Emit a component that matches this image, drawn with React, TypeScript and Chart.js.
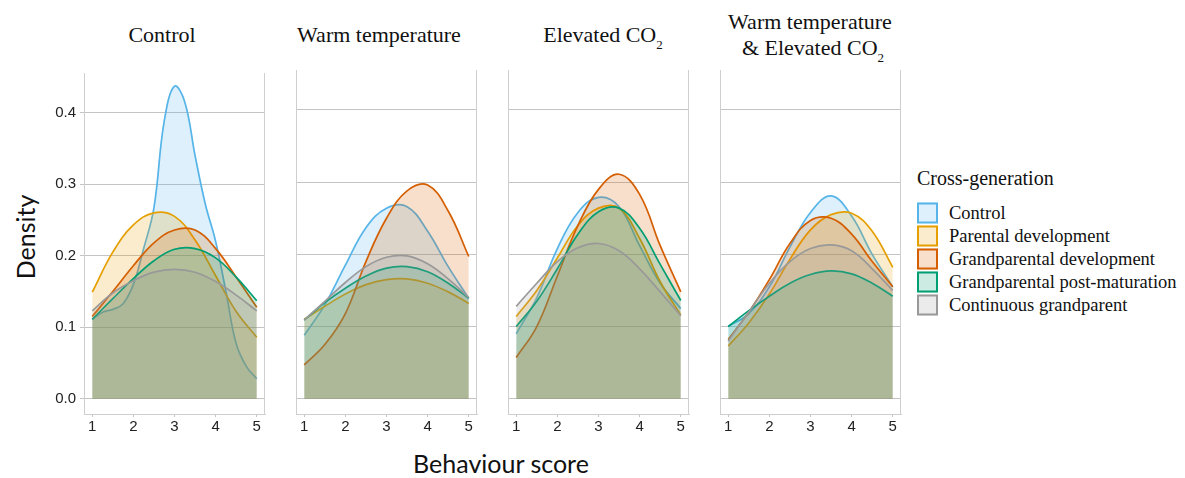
import React, { useEffect, useRef } from "react";
import { Chart, registerables } from "chart.js";

Chart.register(...registerables);

// ---------- data ----------
const behaviourScores = [1, 1.5, 2, 2.5, 3, 3.5, 4, 4.5, 5];
const fineBehaviourScores = [1, 1.25, 1.5, 1.75, 2, 2.25, 2.5, 2.75, 3, 3.25, 3.5, 3.75, 4, 4.25, 4.5, 4.75, 5];
const xTickValues = [1, 2, 3, 4, 5];
const yTickValues = [0, 0.1, 0.2, 0.3, 0.4];

const crossGenerations = [
  "Control",
  "Parental development",
  "Grandparental development",
  "Grandparental post-maturation",
  "Continuous grandparent",
];
const generationColors = ["#56B4E9", "#E69F00", "#D55E00", "#009E73", "#999999"];

// Panel "Control"
const controlControl = [0.111, 0.121, 0.125, 0.133, 0.16, 0.21, 0.267, 0.388, 0.437, 0.415, 0.34, 0.272, 0.22, 0.15, 0.077, 0.045, 0.028];
const controlParental = [0.149, 0.205, 0.243, 0.26, 0.255, 0.222, 0.172, 0.122, 0.086];
const controlGrandDev = [0.115, 0.15, 0.186, 0.218, 0.236, 0.236, 0.21, 0.17, 0.128];
const controlGrandPost = [0.111, 0.14, 0.168, 0.193, 0.209, 0.21, 0.197, 0.17, 0.137];
const controlContinuous = [0.123, 0.148, 0.165, 0.177, 0.181, 0.177, 0.164, 0.145, 0.123];

// Panel "Warm temperature"
const warmControl = [0.088, 0.13, 0.185, 0.237, 0.264, 0.266, 0.232, 0.183, 0.139];
const warmParental = [0.11, 0.128, 0.145, 0.158, 0.165, 0.166, 0.16, 0.148, 0.132];
const warmGrandDev = [0.047, 0.075, 0.118, 0.19, 0.25, 0.288, 0.296, 0.26, 0.197];
const warmGrandPost = [0.109, 0.133, 0.153, 0.17, 0.181, 0.183, 0.176, 0.16, 0.139];
const warmContinuous = [0.109, 0.135, 0.161, 0.183, 0.196, 0.198, 0.187, 0.166, 0.14];

// Panel "Elevated CO2"
const co2Control = [0.09, 0.14, 0.208, 0.258, 0.279, 0.266, 0.212, 0.16, 0.125];
const co2Parental = [0.114, 0.15, 0.195, 0.24, 0.264, 0.264, 0.222, 0.162, 0.116];
const co2GrandDev = [0.057, 0.1, 0.17, 0.24, 0.29, 0.311, 0.283, 0.212, 0.148];
const co2GrandPost = [0.1, 0.135, 0.18, 0.228, 0.259, 0.264, 0.236, 0.186, 0.136];
const co2Continuous = [0.128, 0.16, 0.19, 0.209, 0.215, 0.205, 0.18, 0.148, 0.115];

// Panel "Warm temperature & Elevated CO2"
const bothControl = [0.1, 0.118, 0.155, 0.21, 0.258, 0.281, 0.253, 0.2, 0.155];
const bothParental = [0.073, 0.105, 0.145, 0.193, 0.234, 0.255, 0.257, 0.232, 0.182];
const bothGrandDev = [0.082, 0.12, 0.165, 0.215, 0.247, 0.25, 0.228, 0.19, 0.155];
const bothGrandPost = [0.1, 0.122, 0.142, 0.16, 0.172, 0.177, 0.173, 0.16, 0.142];
const bothContinuous = [0.08, 0.12, 0.16, 0.19, 0.208, 0.213, 0.205, 0.18, 0.15];

type Series = { x: number[]; y: number[] };

const panelSeries: Series[][] = [
  [
    { x: fineBehaviourScores, y: controlControl },
    { x: behaviourScores, y: controlParental },
    { x: behaviourScores, y: controlGrandDev },
    { x: behaviourScores, y: controlGrandPost },
    { x: behaviourScores, y: controlContinuous },
  ],
  [
    { x: behaviourScores, y: warmControl },
    { x: behaviourScores, y: warmParental },
    { x: behaviourScores, y: warmGrandDev },
    { x: behaviourScores, y: warmGrandPost },
    { x: behaviourScores, y: warmContinuous },
  ],
  [
    { x: behaviourScores, y: co2Control },
    { x: behaviourScores, y: co2Parental },
    { x: behaviourScores, y: co2GrandDev },
    { x: behaviourScores, y: co2GrandPost },
    { x: behaviourScores, y: co2Continuous },
  ],
  [
    { x: behaviourScores, y: bothControl },
    { x: behaviourScores, y: bothParental },
    { x: behaviourScores, y: bothGrandDev },
    { x: behaviourScores, y: bothGrandPost },
    { x: behaviourScores, y: bothContinuous },
  ],
];

// ---------- layout / style ----------
const PANEL_LEFTS = [84, 296, 508, 720];
const PANEL_W = 181;
const PANEL_TOP = 70;
const PANEL_H = 344;
const Y_AXIS_W = 40;
const X_AXIS_H = 30;
const PAD_TOP = 10;
const PAD_RIGHT = 12;
const X_MIN = 0.8;
const X_MAX = 5.2;
const Y_MIN = -0.0212;
const Y_MAX = 0.4554;
const GRID_COLOR = "#c4c4c4";
const BORDER_COLOR = "#cfcfcf";
const TICK_COLOR = "#222222";
const SANS = "'Liberation Sans', Arial, sans-serif";
const SERIF = "'Liberation Serif', 'Times New Roman', serif";
const LABEL_FONT = "Lato, 'Open Sans', sans-serif";

function rgba(hex: string, a: number) {
  const n = parseInt(hex.slice(1), 16);
  return `rgba(${(n >> 16) & 255},${(n >> 8) & 255},${n & 255},${a})`;
}

const rightBorderPlugin = {
  id: "rightBorder",
  afterDraw(chart: any) {
    const { ctx, chartArea: a } = chart;
    ctx.save();
    ctx.strokeStyle = BORDER_COLOR;
    ctx.lineWidth = 1;
    ctx.beginPath();
    const x = Math.round(a.right) - 0.5;
    ctx.moveTo(x, a.top);
    ctx.lineTo(x, a.bottom);
    ctx.stroke();
    ctx.restore();
  },
};

function DensityPanel({ index }: { index: number }) {
  const ref = useRef<HTMLCanvasElement>(null);
  const showY = index === 0;
  const width = Y_AXIS_W + PANEL_W + PAD_RIGHT;
  const height = PAD_TOP + PANEL_H + X_AXIS_H;

  useEffect(() => {
    if (!ref.current) return;
    const datasets = panelSeries[index].map((s, i) => ({
      label: crossGenerations[i],
      data: s.x.map((x, j) => ({ x, y: s.y[j] })),
      borderColor: generationColors[i],
      backgroundColor: rgba(generationColors[i], 0.2),
      borderWidth: 1.7,
      fill: "origin",
      pointRadius: 0,
      tension: 0.4,
      order: 5 - i,
    }));
    const chart = new Chart(ref.current, {
      type: "line",
      data: { datasets } as any,
      options: {
        animation: false,
        responsive: false,
        layout: { padding: { top: PAD_TOP, right: PAD_RIGHT, left: 0, bottom: 0 } },
        plugins: { legend: { display: false }, tooltip: { enabled: false } },
        scales: {
          x: {
            type: "linear",
            min: X_MIN,
            max: X_MAX,
            afterBuildTicks: (s: any) => {
              s.ticks = xTickValues.map((v) => ({ value: v }));
            },
            afterFit: (s: any) => {
              s.height = X_AXIS_H;
            },
            grid: { drawOnChartArea: false, drawTicks: true, tickLength: 3, color: GRID_COLOR },
            border: { display: true, color: BORDER_COLOR, width: 1 },
            ticks: {
              font: { family: SANS, size: 15 },
              color: TICK_COLOR,
              padding: 1,
              maxRotation: 0,
              autoSkip: false,
            },
          },
          y: {
            type: "linear",
            min: Y_MIN,
            max: Y_MAX,
            afterBuildTicks: (s: any) => {
              s.ticks = yTickValues.map((v) => ({ value: v }));
            },
            afterFit: (s: any) => {
              s.width = Y_AXIS_W;
            },
            grid: { color: GRID_COLOR, drawTicks: showY, tickLength: 4, lineWidth: 1 },
            border: { display: true, color: BORDER_COLOR, width: 1 },
            ticks: {
              display: showY,
              font: { family: SANS, size: 15 },
              color: TICK_COLOR,
              padding: 4,
              callback: (v: any) => Number(v).toFixed(1),
            },
          },
        },
      } as any,
      plugins: [rightBorderPlugin],
    });
    return () => chart.destroy();
  }, [index]);

  return (
    <canvas
      ref={ref}
      width={width}
      height={height}
      style={{
        position: "absolute",
        left: PANEL_LEFTS[index] - Y_AXIS_W,
        top: PANEL_TOP - PAD_TOP,
        width,
        height,
      }}
    />
  );
}

const titleStyle: React.CSSProperties = {
  position: "absolute",
  transform: "translate(-50%, -50%)",
  fontFamily: SERIF,
  fontSize: 22,
  whiteSpace: "nowrap",
  color: "#111",
  lineHeight: 1,
};
const subStyle: React.CSSProperties = { fontSize: 13, position: "relative", top: 7 };

export default function App() {
  return (
    <div
      style={{
        position: "absolute",
        left: 0,
        top: 0,
        width: 1185,
        height: 478,
        background: "#fff",
        overflow: "hidden",
      }}
    >
      <div style={{ ...titleStyle, left: 162, top: 35 }}>Control</div>
      <div style={{ ...titleStyle, left: 379, top: 35 }}>Warm temperature</div>
      <div style={{ ...titleStyle, left: 603, top: 35 }}>
        Elevated CO<span style={subStyle}>2</span>
      </div>
      <div style={{ ...titleStyle, left: 810, top: 22 }}>Warm temperature</div>
      <div style={{ ...titleStyle, left: 813, top: 48 }}>
        &amp; Elevated CO<span style={subStyle}>2</span>
      </div>

      {PANEL_LEFTS.map((_, i) => (
        <DensityPanel key={i} index={i} />
      ))}

      <div
        style={{
          position: "absolute",
          left: 25,
          top: 237,
          transform: "translate(-50%, -50%) rotate(-90deg)",
          fontFamily: LABEL_FONT,
          fontSize: 25,
          whiteSpace: "nowrap",
          color: "#111",
          lineHeight: 1,
        }}
      >
        Density
      </div>
      <div
        style={{
          position: "absolute",
          left: 501,
          top: 463,
          transform: "translate(-50%, -50%)",
          fontFamily: LABEL_FONT,
          fontSize: 25,
          whiteSpace: "nowrap",
          color: "#111",
          lineHeight: 1,
        }}
      >
        Behaviour score
      </div>

      <div
        style={{
          position: "absolute",
          left: 917,
          top: 178,
          transform: "translateY(-50%)",
          fontFamily: SERIF,
          fontSize: 20,
          whiteSpace: "nowrap",
          color: "#111",
          lineHeight: 1,
        }}
      >
        Cross-generation
      </div>
      {crossGenerations.map((name, i) => (
        <div
          key={name}
          style={{
            position: "absolute",
            left: 917,
            top: 212.7 + 23.1 * i,
            transform: "translateY(-50%)",
            display: "flex",
            alignItems: "center",
            whiteSpace: "nowrap",
          }}
        >
          <div
            style={{
              boxSizing: "border-box",
              width: 21,
              height: 21,
              border: `2px solid ${generationColors[i]}`,
              background: rgba(generationColors[i], 0.2),
            }}
          />
          <span
            style={{
              marginLeft: 11,
              fontFamily: SERIF,
              fontSize: 18.5,
              color: "#111",
              lineHeight: 1,
            }}
          >
            {name}
          </span>
        </div>
      ))}
    </div>
  );
}
